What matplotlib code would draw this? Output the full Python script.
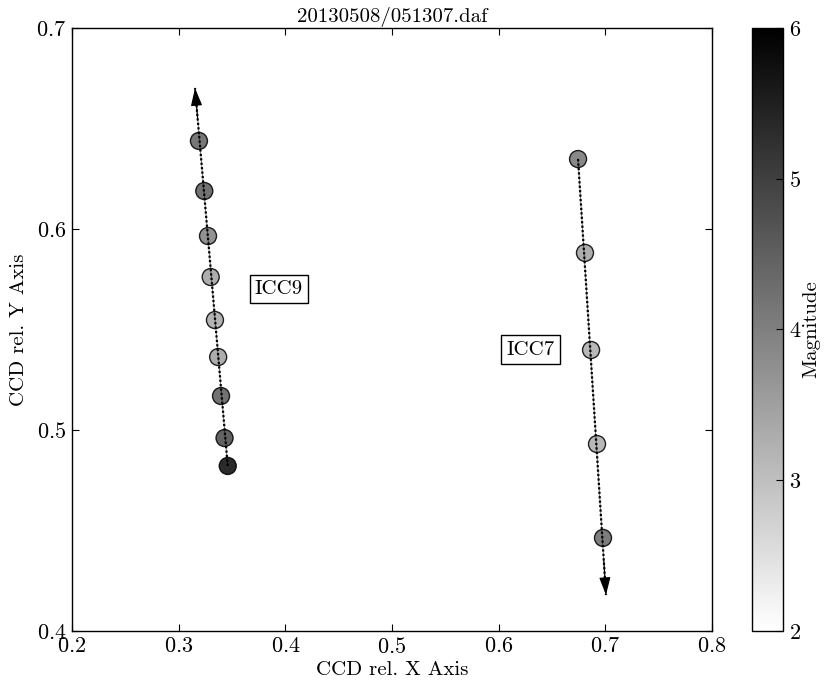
import matplotlib
matplotlib.use("Agg")
import matplotlib.pyplot as plt
import numpy as np

plt.rcParams["font.family"] = "serif"
plt.rcParams["font.serif"] = ["cmr10", "DejaVu Serif"]
plt.rcParams["mathtext.fontset"] = "cm"
plt.rcParams["axes.unicode_minus"] = False
plt.rcParams["axes.formatter.use_mathtext"] = True

TITLE = "20130508/051307.daf"

# ICC9 track (positions on CCD, magnitude per frame)
ICC9_X = [0.319, 0.324, 0.3275, 0.330, 0.334, 0.337, 0.3397, 0.343, 0.346]
ICC9_Y = [0.6438, 0.6189, 0.5965, 0.5761, 0.5547, 0.5363, 0.5169, 0.4960, 0.4821]
ICC9_MAG = [4.5, 4.6, 4.0, 3.5, 3.4, 3.5, 4.6, 4.9, 5.9]
ICC9_TIP = (0.3153, 0.6701)

# ICC7 track
ICC7_X = [0.6744, 0.6809, 0.6866, 0.6922, 0.6978]
ICC7_Y = [0.6348, 0.5881, 0.5398, 0.4930, 0.4463]
ICC7_MAG = [4.2, 3.5, 3.3, 3.3, 4.4]
ICC7_TIP = (0.7006, 0.4179)

LABELS = ["ICC9", "ICC7"]
LABEL_POS = [(0.394, 0.570), (0.630, 0.540)]

MAG_MIN, MAG_MAX = 2, 6

fig = plt.figure(figsize=(8.24, 6.86), dpi=100)
ax = fig.add_axes([0.0874, 0.0802, 0.7767, 0.879])
cax = fig.add_axes([0.9126, 0.0802, 0.0376, 0.879])

tracks = [
    (ICC9_X, ICC9_Y, ICC9_MAG, ICC9_TIP),
    (ICC7_X, ICC7_Y, ICC7_MAG, ICC7_TIP),
]

sc = None
for xs, ys, mags, tip in tracks:
    sc = ax.scatter(xs, ys, c=mags, cmap="gray_r", vmin=MAG_MIN, vmax=MAG_MAX,
                    s=150, edgecolors="black", linewidths=1.0, alpha=0.85, zorder=2)
    # the track starts at the end farthest from the arrow tip
    if abs(tip[1] - ys[-1]) < abs(tip[1] - ys[0]):
        start = (xs[0], ys[0])
    else:
        start = (xs[-1], ys[-1])
    ax.plot([start[0], tip[0]], [start[1], tip[1]], color="black",
            linestyle=(0, (1, 1)), linewidth=1.6, zorder=3)
    ax.plot([start[0], tip[0]], [start[1], tip[1]], color="black",
            linewidth=0.6, alpha=0.6, zorder=3)
    # short arrow segment along the same direction, ending at the tip
    d = np.array(tip) - np.array(start)
    back = np.array(tip) - 0.08 * d
    ax.annotate("", xy=tip, xytext=tuple(back),
                arrowprops=dict(arrowstyle="-|>,head_length=1.1,head_width=0.35",
                                color="black", lw=0.8, shrinkA=0, shrinkB=0),
                zorder=4)

for txt, (lx, ly) in zip(LABELS, LABEL_POS):
    ax.text(lx, ly, txt, fontsize=15, ha="center", va="center",
            bbox=dict(boxstyle="square,pad=0.25", facecolor="white",
                      edgecolor="black", linewidth=1.0))

ax.set_xlim(0.2, 0.8)
ax.set_ylim(0.4, 0.7)
ax.set_xticks([0.2, 0.3, 0.4, 0.5, 0.6, 0.7, 0.8])
ax.set_yticks([0.4, 0.5, 0.6, 0.7])
ax.tick_params(direction="in", top=True, right=True, length=5, width=0.8,
               labelsize=16, pad=4)
ax.set_xlabel("CCD rel. X Axis", fontsize=15, labelpad=3)
ax.set_ylabel("CCD rel. Y Axis", fontsize=15, labelpad=6)
ax.set_title(TITLE, fontsize=15, pad=4)
for sp in ax.spines.values():
    sp.set_linewidth(1.0)

cb = fig.colorbar(sc, cax=cax)
cb.solids.set_alpha(1)
cb.set_ticks([2, 3, 4, 5, 6])
cb.ax.tick_params(direction="in", length=5, width=0.8, labelsize=16, pad=4)
cb.set_label("Magnitude", fontsize=15, labelpad=1)
cb.outline.set_linewidth(1.0)

fig.savefig("out.png", dpi=100)
